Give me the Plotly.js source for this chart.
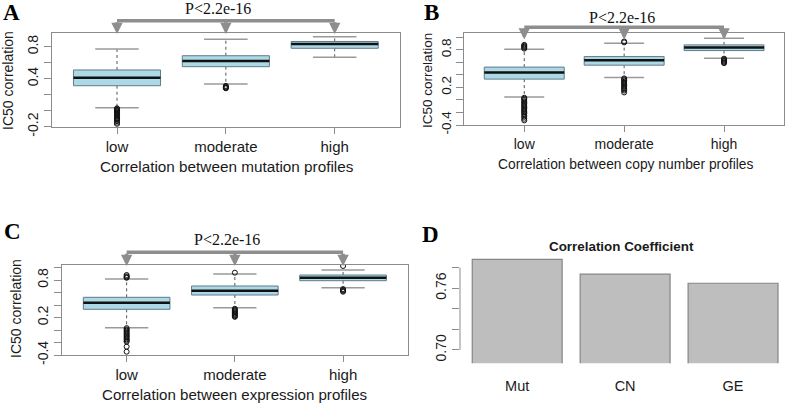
<!DOCTYPE html>
<html>
<head>
<meta charset="utf-8">
<script src="https://cdn.plot.ly/plotly-3.0.1.min.js"></script>
<style>
  html, body { margin: 0; padding: 0; background: #fff; }
  #chart { width: 787px; height: 403px; }
</style>
</head>
<body>
<div id="chart"></div>
<script>
// Categorias de los boxplots
const groups = ['low', 'moderate', 'high'];

// A: perfiles de mutacion
const mutLower = [0.037, 0.334, 0.667];
const mutQ1 = [0.312, 0.55, 0.78];
const mutMedian = [0.412, 0.621, 0.834];
const mutQ3 = [0.509, 0.687, 0.865];
const mutUpper = [0.771, 0.892, 0.925];
const mutOutliers = [
    [0.03, 0.02, 0.01, 0.0, -0.01, -0.02, -0.035, -0.05, -0.06, -0.075, -0.09, -0.1, -0.115, -0.13, -0.15, -0.166],
    [0.31, 0.3, 0.29, 0.285, 0.28],
    []
];

// B: perfiles de numero de copias
const cnLower = [0.047, 0.359, 0.668];
const cnQ1 = [0.333, 0.556, 0.789];
const cnMedian = [0.439, 0.636, 0.837];
const cnQ3 = [0.525, 0.693, 0.88];
const cnUpper = [0.811, 0.907, 0.986];
const cnOutliers = [
    [0.88, 0.865, 0.85, 0.835, 0.82, 0.035, 0.02, 0.0, -0.02, -0.04, -0.06, -0.08, -0.1, -0.12, -0.14, -0.16, -0.18, -0.2, -0.22, -0.245, -0.27, -0.3, -0.326],
    [0.935, 0.92, 0.345, 0.33, 0.31, 0.29, 0.27, 0.25, 0.23, 0.21, 0.19, 0.17, 0.15, 0.12],
    [0.66, 0.645, 0.63, 0.615, 0.6, 0.588]
];

// C: perfiles de expresion
const geLower = [0.037, 0.357, 0.677];
const geQ1 = [0.331, 0.56, 0.789];
const geMedian = [0.437, 0.629, 0.837];
const geQ3 = [0.523, 0.704, 0.88];
const geUpper = [0.816, 0.896, 0.96];
const geOutliers = [
    [0.88, 0.86, 0.845, 0.835, 0.03, 0.01, -0.01, -0.03, -0.05, -0.07, -0.09, -0.11, -0.13, -0.15, -0.17, -0.187, -0.267, -0.347],
    [0.917, 0.34, 0.325, 0.31, 0.295, 0.28, 0.265, 0.25, 0.235, 0.22, 0.21],
    [1.024, 0.655, 0.64, 0.625, 0.613]
];

// D: coeficiente de correlacion
const coefLabels = ['Mut', 'CN', 'GE'];
const coefValues = [0.788, 0.7736, 0.7648];

const W = 787, H = 403;
const px = x => x / W;
const py = y => 1 - y / H;

const sans = 'Liberation Sans, Arial, sans-serif';
const serif = 'Liberation Serif, Times New Roman, serif';
const ink = '#1a1a1a';
const frame = '#8c8c8c';
const arrowGrey = '#8e8e8e';

function boxTraces(xa, ya, lower, q1, med, q3, upper, outliers) {
    const wx = [], wy = [], cx = [], cy = [], bx = [], by = [], mx = [], my = [], ox = [], oy = [];
    groups.forEach((g, i) => {
        wx.push(i, i, null, i, i, null);
        wy.push(q3[i], upper[i], null, q1[i], lower[i], null);
        cx.push(i - 0.2, i + 0.2, null, i - 0.2, i + 0.2, null);
        cy.push(upper[i], upper[i], null, lower[i], lower[i], null);
        bx.push(i - 0.4, i + 0.4, i + 0.4, i - 0.4, i - 0.4, null);
        by.push(q1[i], q1[i], q3[i], q3[i], q1[i], null);
        mx.push(i - 0.4, i + 0.4, null);
        my.push(med[i], med[i], null);
        outliers[i].forEach(v => { ox.push(i); oy.push(v); });
    });
    const common = { xaxis: xa, yaxis: ya, type: 'scatter', hoverinfo: 'skip', showlegend: false };
    return [
        { ...common, mode: 'lines', x: wx, y: wy, line: { color: '#555', width: 1, dash: '3px,3px' } },
        { ...common, mode: 'lines', x: cx, y: cy, line: { color: '#9a9a9a', width: 1.5 } },
        { ...common, mode: 'lines', x: bx, y: by, fill: 'toself', fillcolor: '#add8e6', line: { color: '#5f7b88', width: 1 } },
        { ...common, mode: 'lines', x: mx, y: my, line: { color: '#111', width: 2.5 } },
        { ...common, mode: 'markers', x: ox, y: oy, marker: { symbol: 'circle-open', size: 5, color: '#111', line: { width: 1, color: '#111' } } }
    ];
}

const traces = [
    ...boxTraces('x', 'y', mutLower, mutQ1, mutMedian, mutQ3, mutUpper, mutOutliers),
    ...boxTraces('x2', 'y2', cnLower, cnQ1, cnMedian, cnQ3, cnUpper, cnOutliers),
    ...boxTraces('x3', 'y3', geLower, geQ1, geMedian, geQ3, geUpper, geOutliers),
    {
        type: 'bar', xaxis: 'x4', yaxis: 'y4',
        x: coefLabels.map((_, i) => i), y: coefValues,
        width: 0.833,
        marker: { color: '#bebebe', line: { color: '#858585', width: 1.2 } },
        hoverinfo: 'skip', showlegend: false
    }
];

function boxX(domain, fontSize) {
    return {
        domain: domain, range: [-0.6, 2.6], tickvals: [0, 1, 2], ticktext: groups,
        showline: true, mirror: true, linecolor: frame, linewidth: 1,
        ticks: 'outside', ticklen: 6, tickcolor: frame,
        tickfont: { family: sans, size: fontSize, color: ink },
        showgrid: false, zeroline: false, fixedrange: true
    };
}

function boxY(domain, range, tickvals, ticktext, fontSize) {
    return {
        domain: domain, range: range, tickvals: tickvals, ticktext: ticktext,
        tickangle: -90,
        showline: true, mirror: true, linecolor: frame, linewidth: 1,
        ticks: 'outside', ticklen: 7, tickcolor: frame,
        tickfont: { family: sans, size: fontSize, color: ink },
        showgrid: false, zeroline: false, fixedrange: true
    };
}

const ticksBC = [-0.4, -0.2, 0, 0.2, 0.4, 0.6, 0.8, 1.0];
const labelsBC = ['-0.4', '', '', '0.2', '', '', '0.8', ''];

const layout = {
    width: W, height: H,
    margin: { l: 0, r: 0, t: 0, b: 0 },
    paper_bgcolor: '#fff', plot_bgcolor: '#fff',
    showlegend: false,
    xaxis: { ...boxX([px(51.7), px(400)], 15), anchor: 'y' },
    yaxis: { ...boxY([py(126.7), py(33)], [-0.2, 0.971], [-0.2, 0, 0.2, 0.4, 0.6, 0.8], ['-0.2', '', '', '0.4', '', '0.8'], 14), anchor: 'x' },
    xaxis2: { ...boxX([px(464.3), px(784)], 14), anchor: 'y2' },
    yaxis2: { ...boxY([py(125), py(33.3)], [-0.4, 1.065], ticksBC, labelsBC, 13.5), anchor: 'x2' },
    xaxis3: { ...boxX([px(61.7), px(408)], 15), anchor: 'y3' },
    yaxis3: { ...boxY([py(355), py(265)], [-0.4, 1.04], ticksBC, labelsBC, 14), anchor: 'x3' },
    xaxis4: {
        domain: [px(460), 1], range: [-0.53, 2.5], anchor: 'y4',
        tickvals: [0, 1, 2], ticktext: coefLabels,
        showline: false, ticks: 'outside', ticklen: 9, tickcolor: 'rgba(0,0,0,0)',
        tickfont: { family: sans, size: 14.5, color: ink },
        showgrid: false, zeroline: false, fixedrange: true
    },
    yaxis4: {
        domain: [py(363.3), py(252.2)], range: [0.687, 0.795], anchor: 'x4',
        tickvals: [0.70, 0.72, 0.74, 0.76, 0.78], ticktext: ['0.70', '', '', '0.76', ''],
        tickangle: -90, showline: false,
        ticks: 'outside', ticklen: 7, tickcolor: frame,
        tickfont: { family: sans, size: 14, color: ink },
        showgrid: false, zeroline: false, fixedrange: true
    },
    shapes: [
        // corchetes de comparacion
        { type: 'line', xref: 'x', yref: 'paper', x0: 0, x1: 2, y0: py(20.7), y1: py(20.7), line: { color: arrowGrey, width: 3.5 } },
        { type: 'line', xref: 'x2', yref: 'paper', x0: 0, x1: 2, y0: py(27.3), y1: py(27.3), line: { color: arrowGrey, width: 3.5 } },
        { type: 'line', xref: 'x3', yref: 'paper', x0: 0, x1: 2, y0: py(252.3), y1: py(252.3), line: { color: arrowGrey, width: 3.5 } },
        // eje y del panel D
        { type: 'line', xref: 'paper', yref: 'y4', x0: px(460), x1: px(460), y0: 0.70, y1: 0.78, line: { color: frame, width: 1 } }
    ],
    annotations: []
};

function addText(text, x, y, size, opts) {
    layout.annotations.push({
        text: text, xref: 'paper', yref: 'paper', x: px(x), y: py(y),
        xanchor: 'center', yanchor: 'middle', showarrow: false,
        font: { family: sans, size: size, color: ink }, ...opts
    });
}

// Letras de los paneles
addText('<b>A</b>', 11.7, 12.5, 23, { font: { family: serif, size: 23, color: '#000' } });
addText('<b>B</b>', 431.7, 12.5, 23, { font: { family: serif, size: 23, color: '#000' } });
addText('<b>C</b>', 12.5, 231, 23, { font: { family: serif, size: 23, color: '#000' } });
addText('<b>D</b>', 430, 234.5, 23, { font: { family: serif, size: 23, color: '#000' } });

// P valores
addText('P&lt;2.2e-16', 218.3, 8.3, 16, { font: { family: serif, size: 16, color: '#111' } });
addText('P&lt;2.2e-16', 621.7, 17.5, 16, { font: { family: serif, size: 16, color: '#111' } });
addText('P&lt;2.2e-16', 226.7, 240, 16, { font: { family: serif, size: 16, color: '#111' } });

// Titulos de ejes
addText('Correlation between mutation profiles', 226.5, 166.7, 15.3);
addText('Correlation between copy number profiles', 625, 164, 13.8);
addText('Correlation between expression profiles', 235, 394, 15.1);
addText('IC50 correlation', 8, 81, 14, { textangle: -90 });
addText('IC50 correlation', 427, 80, 13.5, { textangle: -90 });
addText('IC50 correlation', 16, 309, 14, { textangle: -90 });
addText('<b>Correlation Coefficient</b>', 621.7, 246.7, 13.4);

// Flechas hacia cada grupo
[['x', 34, -13.3], ['x2', 39.5, -12.2], ['x3', 266, -13.7]].forEach(([xa, tip, ay]) => {
    groups.forEach((g, i) => {
        layout.annotations.push({
            text: '', xref: xa, yref: 'paper', x: i, y: py(tip),
            ax: 0, ay: ay, axref: 'pixel', ayref: 'pixel',
            showarrow: true, arrowhead: 2, arrowsize: 0.65, arrowwidth: 3.5, arrowcolor: arrowGrey
        });
    });
});

Plotly.newPlot('chart', traces, layout, { displayModeBar: false, staticPlot: true });
</script>
</body>
</html>
